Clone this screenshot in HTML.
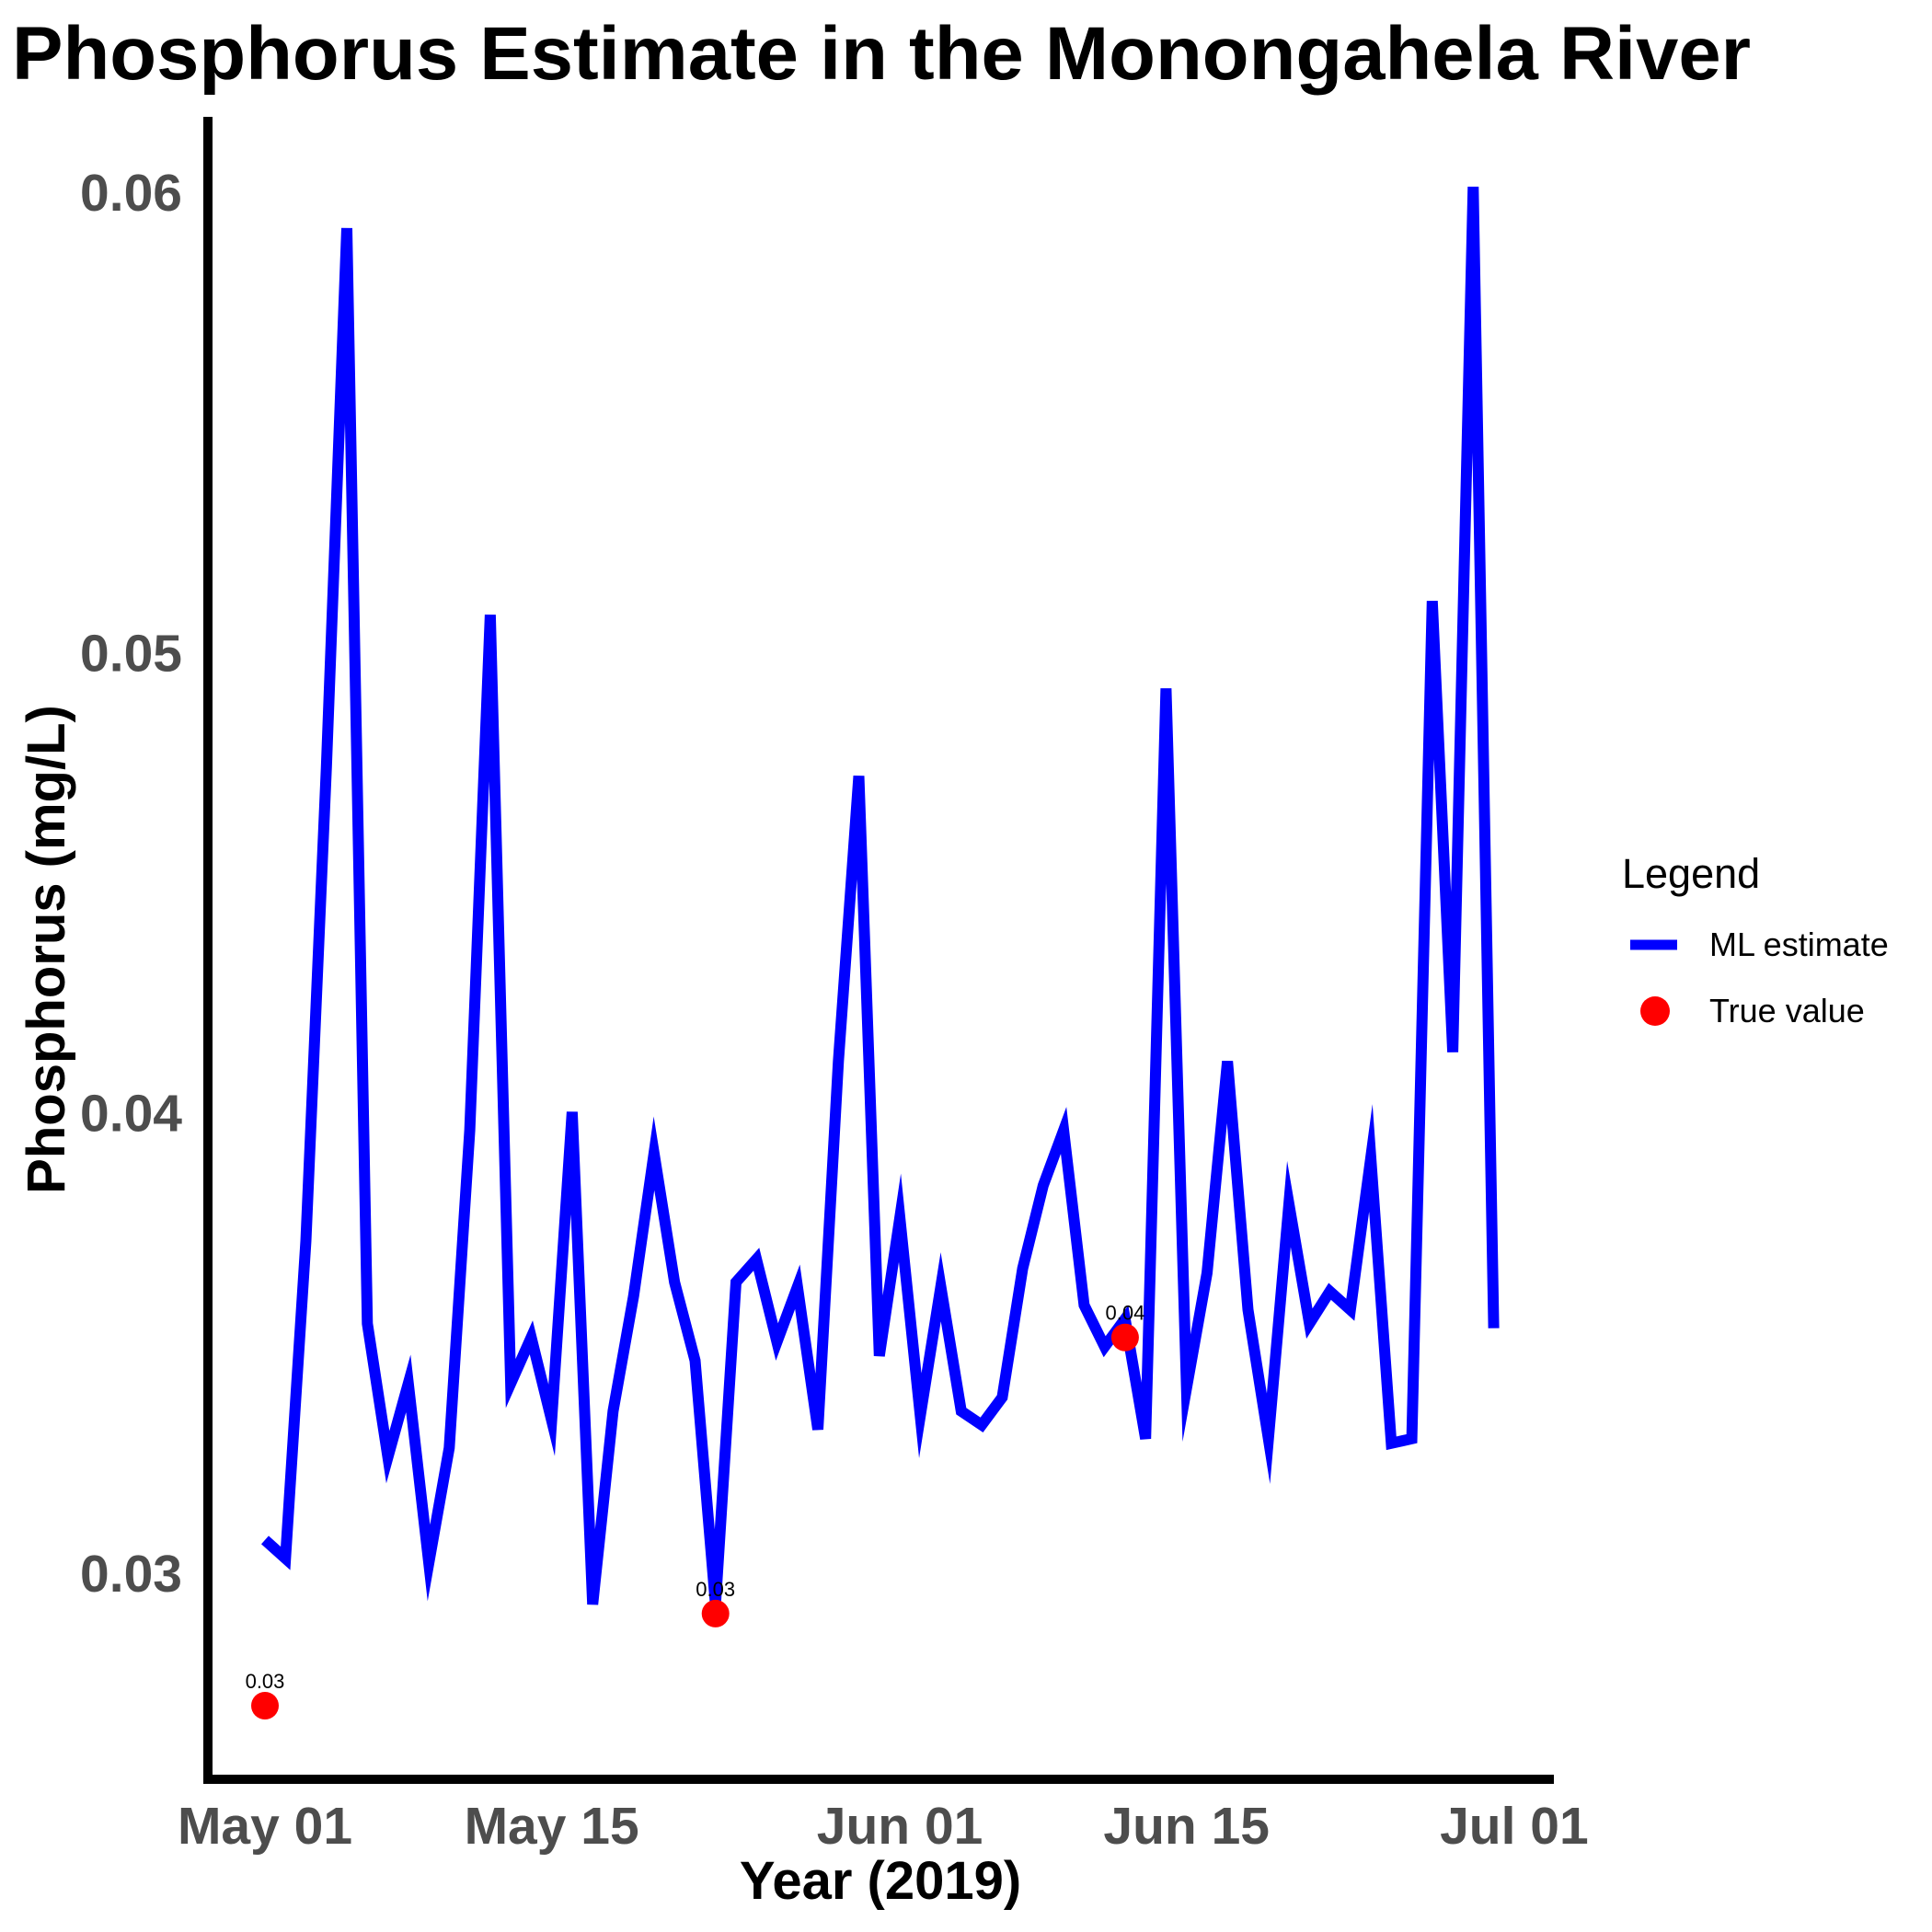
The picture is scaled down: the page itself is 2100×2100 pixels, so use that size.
<!DOCTYPE html>
<html><head><meta charset="utf-8"><style>html,body{margin:0;padding:0;background:#fff}svg{display:block}</style></head>
<body>
<svg id="chart" width="2100" height="2100" viewBox="0 0 2100 2100" xmlns="http://www.w3.org/2000/svg" font-family="'Liberation Sans', sans-serif">
<text x="13" y="86" font-size="82" font-weight="bold" textLength="1890" lengthAdjust="spacingAndGlyphs">Phosphorus Estimate in the Monongahela River</text>
<g id="plot"></g>
<text x="957" y="2064" font-size="58" font-weight="bold" text-anchor="middle">Year (2019)</text>
<text transform="translate(70,1032) rotate(-90)" font-size="58" font-weight="bold" text-anchor="middle">Phosphorus (mg/L)</text>
<g>
<text x="1763" y="965" font-size="45">Legend</text>
<line x1="1772" y1="1027" x2="1823" y2="1027" stroke="#0000ff" stroke-width="11"/>
<text x="1858" y="1039" font-size="36">ML estimate</text>
<circle cx="1799" cy="1099" r="16" fill="#ff0000"/>
<text x="1858" y="1111" font-size="36">True value</text>
</g>
</svg>
<script>
const estimateValues = [0.0307,0.0303,0.0372,0.0475,0.0592,0.0354,0.0325,0.0341,0.0302,0.0327,0.0396,0.0508,0.0341,0.0351,0.0333,0.0400,0.0293,0.0335,0.0360,0.0391,0.0363,0.0346,0.0293,0.0363,0.0368,0.0350,0.0362,0.0331,0.0411,0.0473,0.0347,0.0377,0.0334,0.0362,0.0335,0.0332,0.0338,0.0366,0.0384,0.0396,0.0358,0.0349,0.0355,0.0329,0.0492,0.0340,0.0365,0.0411,0.0357,0.0329,0.0380,0.0354,0.0361,0.0357,0.0390,0.0328,0.0329,0.0511,0.0413,0.0601,0.0353];
const trueDays = [0, 22, 42];
const trueValues = [0.0271, 0.0291, 0.0351];
const trueLabels = ["0.03", "0.03", "0.04"];
const yTicks = [0.03, 0.04, 0.05, 0.06];
const yTickLabels = ["0.03", "0.04", "0.05", "0.06"];
const xTickDays = [0, 14, 31, 45, 61];
const xTickLabels = ["May 01", "May 15", "Jun 01", "Jun 15", "Jul 01"];

const NS = "http://www.w3.org/2000/svg";
const xs = d => 288 + d * 22.26;
const ys = v => 208 + (0.06 - v) * 50030;
const g = document.getElementById('plot');
function mk(tag, attrs){ const e=document.createElementNS(NS,tag); for(const k in attrs) e.setAttribute(k,attrs[k]); g.appendChild(e); return e; }

const ya = mk('line',{x1:226,y1:127,x2:226,y2:1939,stroke:'#000','stroke-width':10});


const xa = mk('line',{x1:221,y1:1934,x2:1689,y2:1934,stroke:'#000','stroke-width':10});



yTicks.forEach((v,i)=>{
  const t = mk('text',{x:198,y:ys(v)+21,'font-size':57,'font-weight':'bold','text-anchor':'end',fill:'#4d4d4d'});
  t.textContent = yTickLabels[i];
  
  
});
xTickDays.forEach((d,i)=>{
  const t = mk('text',{x:xs(d),y:2004,'font-size':57,'font-weight':'bold','text-anchor':'middle',fill:'#4d4d4d'});
  t.textContent = xTickLabels[i];
  
  
});

const pts = estimateValues.map((v,i)=>xs(i).toFixed(1)+','+ys(v).toFixed(1)).join(' ');
const line = mk('polyline',{points:pts,fill:'none',stroke:'#0000ff','stroke-width':12,'stroke-linejoin':'miter','stroke-miterlimit':10});



trueDays.forEach((d,i)=>{
  const c = mk('circle',{cx:xs(d),cy:ys(trueValues[i]),r:15,fill:'#ff0000'});
  
  
  const t = mk('text',{x:xs(d),y:ys(trueValues[i])-19,'font-size':22,'text-anchor':'middle',fill:'#000'});
  t.textContent = trueLabels[i];
  
  
});
</script>
</body></html>
